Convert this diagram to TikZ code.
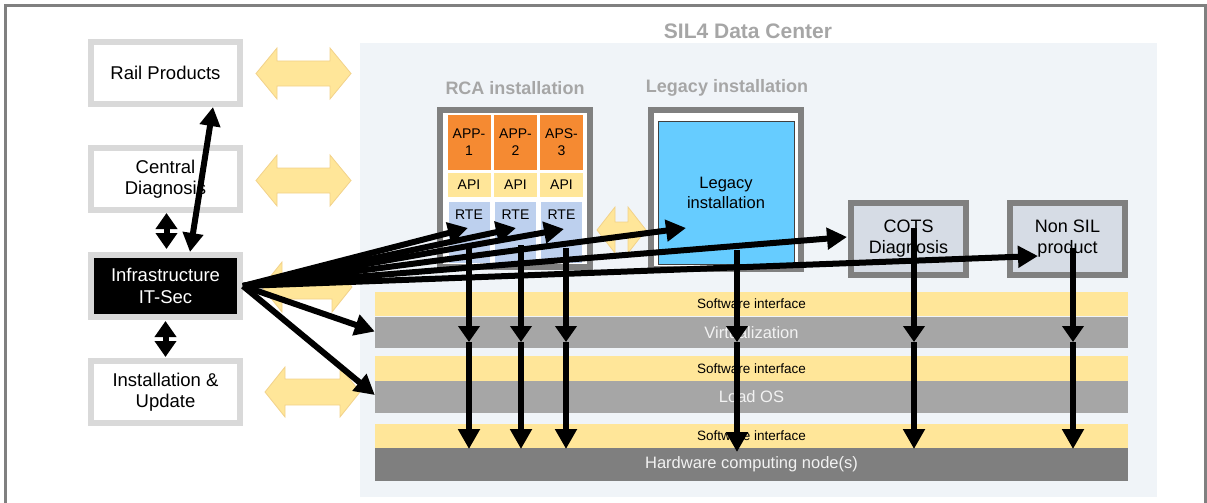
\documentclass[tikz,border=0pt]{standalone}
\usepackage{fontspec}
\setmainfont{Liberation Sans}
\usetikzlibrary{arrows.meta,calc}

\definecolor{framegray}{HTML}{808080}
\definecolor{dcbg}{HTML}{F0F4F8}
\definecolor{titlegray}{HTML}{A6A6A6}
\definecolor{boxgray}{HTML}{D9D9D9}
\definecolor{softyellow}{HTML}{FFE699}
\definecolor{softyellowedge}{HTML}{F2D28A}
\definecolor{apporange}{HTML}{F58A32}
\definecolor{rteblue}{HTML}{BDD0EE}
\definecolor{legacyblue}{HTML}{66CCFF}
\definecolor{cotsfill}{HTML}{D6DCE5}
\definecolor{layergray}{HTML}{A6A6A6}
\definecolor{hwgray}{HTML}{7F7F7F}
\definecolor{layertext}{HTML}{F2F2F2}

% horizontal double block arrow: x1, x2, ytop, ybottom, shaft inset, head length
\newcommand\dblblockarrow[6]{%
  \path[yblock] (#1,#3/2+#4/2) -- (#1+#6,#3) -- (#1+#6,#3+#5) -- (#2-#6,#3+#5)
    -- (#2-#6,#3) -- (#2,#3/2+#4/2) -- (#2-#6,#4) -- (#2-#6,#4-#5)
    -- (#1+#6,#4-#5) -- (#1+#6,#4) -- cycle;}

\tikzset{
  yblock/.style={fill=softyellow, draw=softyellowedge, line width=0.8pt, line join=miter},
  leftbox/.style={draw=boxgray, line width=6pt, fill=white, minimum width=149pt,
    minimum height=62pt, inner sep=0pt, align=center,
    font=\fontsize{18.5}{21.5}\selectfont},
  instbox/.style={draw=framegray, line width=6pt, fill=white, inner sep=0pt},
  sidebox/.style={draw=framegray, line width=6pt, fill=cotsfill, minimum width=115pt,
    minimum height=72pt, inner sep=0pt, align=center,
    font=\fontsize{18}{21}\selectfont},
  grouptitle/.style={font=\bfseries\fontsize{18}{21}\selectfont, text=titlegray},
  appcell/.style={fill=apporange, minimum width=43pt, minimum height=55pt, inner sep=0pt,
    align=center, font=\fontsize{14}{17}\selectfont},
  apicell/.style={fill=softyellow, minimum width=43pt, minimum height=24pt, inner sep=0pt,
    font=\fontsize{14}{17}\selectfont},
  rtecell/.style={fill=rteblue, minimum width=41pt, minimum height=61pt, inner sep=0pt,
    font=\fontsize{14}{17}\selectfont},
  swlayer/.style={fill=softyellow, minimum width=753pt, inner sep=0pt,
    font=\fontsize{13.5}{16}\selectfont},
  oslayer/.style={fill=layergray, minimum width=753pt, inner sep=0pt, text=layertext,
    font=\fontsize{16.5}{20}\selectfont},
  conn/.style={line width=6pt, -{Triangle[length=20pt,width=21pt]}},
  midconn/.style={line width=6pt, -{Triangle[length=16pt,width=21pt]}},
  biconn/.style={line width=6pt,
    {Triangle[length=19pt,width=20pt]}-{Triangle[length=19pt,width=20pt]}},
  shortbiconn/.style={line width=6pt,
    {Triangle[length=16pt,width=21pt]}-{Triangle[length=16pt,width=21pt]}},
}

\begin{document}
\begin{tikzpicture}[x=1pt,y=-1pt]
\useasboundingbox (0,0) rectangle (1207,503);

% page frame and data center area
\draw[framegray, line width=3pt] (5.5,510) -- (5.5,5.5) -- (1205,5.5) -- (1205,510);
\fill[dcbg] (360,43) rectangle (1157,497);
\node[font=\bfseries\fontsize{21}{24}\selectfont, text=titlegray] (dctitle) at (748,31) {SIL4 Data Center};

% interface block arrows
\dblblockarrow{256}{351}{48}{99}{13}{21}
\dblblockarrow{256}{351}{155}{206}{13}{21}
\dblblockarrow{262}{352}{262}{312}{13}{20}
\dblblockarrow{265}{360}{367}{417}{12}{20}
\dblblockarrow{597}{646}{207}{253}{15}{18}

% external systems
\node[leftbox] (rail) at (165.5,73) {Rail Products};
\node[leftbox] (central) at (165.5,179) {Central\\Diagnosis};
\node[leftbox, fill=black, text=white] (infra) at (165.5,286) {Infrastructure\\IT-Sec};
\node[leftbox] (install) at (165.5,392) {Installation \&\\Update};

% RCA installation
\node[grouptitle] (rcatitle) at (515,88) {RCA installation};
\node[instbox, minimum width=150pt, minimum height=157pt] (rca) at (515,188.5) {};
\foreach \x/\a [count=\i] in {469/APP-\\1, 515.5/APP-\\2, 561.5/APS-\\3}{
  \node[appcell] (app\i) at (\x,142.5) {\a};
  \node[apicell] (api\i) at (\x,185) {API};
  \node[rtecell] (rte\i) at (\x,232.5) {};
  \node[font=\fontsize{14}{17}\selectfont, inner sep=0pt] (rtelabel\i) at (\x,215) {RTE};
}

% legacy installation
\node[grouptitle] (legtitle) at (727,88) {Legacy installation};
\node[instbox, minimum width=150pt, minimum height=159pt] (legacy) at (726,189.5) {};
\node[fill=legacyblue, draw=black!75, line width=0.8pt, minimum width=136pt,
  minimum height=143pt, inner sep=0pt, align=center,
  font=\fontsize{16.5}{20}\selectfont] (legacyin) at (726,192.5) {Legacy\\installation};

% further products
\node[sidebox] (cots) at (908.5,239) {COTS\\Diagnosis};
\node[sidebox] (nonsil) at (1067.5,239) {Non SIL\\product};

% platform layers
\node[swlayer, minimum height=24pt] (sw1) at (751.5,304) {Software interface};
\node[oslayer, minimum height=31pt] (virt) at (751.5,332.5) {Virtualization};
\node[swlayer, minimum height=25pt] (sw2) at (751.5,368.5) {Software interface};
\node[oslayer, minimum height=32pt] (loados) at (751.5,397) {Load OS};
\node[swlayer, minimum height=24pt] (sw3) at (751.5,436) {Software interface};
\node[oslayer, fill=hwgray, minimum height=33pt] (hw) at (751.5,464.5) {Hardware computing node(s)};

% connections between external systems
\draw[biconn] ($(rail.south)+(47.5,0)$) -- ($(infra.north)+(24.5,0)$);
\draw[shortbiconn] ($(central.south)+(1,0)$) -- ($(infra.north)+(1,-3)$);
\draw[shortbiconn] ($(infra.south)+(0,1)$) -- ($(install.north)+(0,-1)$);

% installations down to the hardware
\foreach \x/\ys/\ye [count=\i] in {469/244/449, 521/245/449, 566/248/449,
    737/250/452, 914/228/449, 1073/248/449}{
  \coordinate (d\i-s) at (\x,\ys);
  \coordinate (d\i-m) at (\x,342);
  \coordinate (d\i-e) at (\x,\ye);
  \draw[midconn] (d\i-s) -- (d\i-m);
  \draw[conn] (d\i-m) -- (d\i-e);
}

% IT security reaching into the data center
\coordinate (f-rte1) at (468,228);
\coordinate (f-rte2) at (516,228);
\coordinate (f-rte3) at (564,229);
\coordinate (f-leg) at (686,228);
\coordinate (f-cots) at ($(cots.west)+(-1,-2)$);
\coordinate (f-non) at (1038,256);
\coordinate (f-virt) at ($(virt.west)+(0,-1)$);
\coordinate (f-load) at ($(loados.west)+(0,-2)$);
\foreach \t in {f-rte1,f-rte2,f-rte3,f-leg,f-cots,f-non,f-virt,f-load}{
  \draw[conn] (infra.east) -- (\t);
}
\end{tikzpicture}
\end{document}
